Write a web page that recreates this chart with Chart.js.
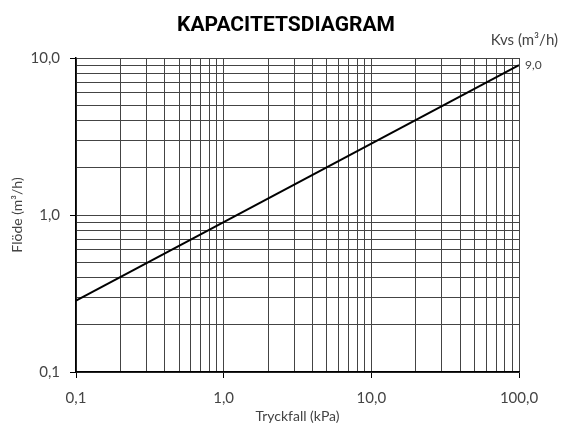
<!DOCTYPE html>
<html>
<head>
<meta charset="utf-8">
<script src="https://cdn.jsdelivr.net/npm/chart.js@4.4.1/dist/chart.umd.min.js"></script>
<style>
  html, body { margin: 0; padding: 0; background: #fff; }
  #wrap { width: 563px; height: 425px; position: relative; }
</style>
</head>
<body>
<div id="wrap"><canvas id="chart"></canvas></div>
<script>
/**
 *  Data
 */
var tryckfall = [0.1, 100];          // kPa
var flode = [0.285, 9.0];            // m3/h for Kvs 9,0
var kvsLabel = "9,0";
var gridX = [0.1, 0.2, 0.3, 0.4, 0.5, 0.6, 0.7, 0.8, 0.9,
             1, 2, 3, 4, 5, 6, 7, 8, 9,
             10, 20, 30, 40, 50, 60, 70, 80, 90, 100];
var gridY = [0.1, 0.2, 0.3, 0.4, 0.5, 0.6, 0.7, 0.8, 0.9,
             1, 2, 3, 4, 5, 6, 7, 8, 9, 10];
var majorTicks = [0.1, 1, 10, 100];
var majorLabels = ["0,1", "1,0", "10,0", "100,0"];

var tickFont = { family: "Lato", size: 15 };
var textColor = "#444";

var isMajor = function (v) {
    for (var i = 0; i < majorTicks.length; i++) {
        if (Math.abs(v - majorTicks[i]) < 1e-9) return i;
    }
    return -1;
};

var labelFor = function (v) {
    var i = isMajor(v);
    return i >= 0 ? majorLabels[i] : "";
};

var setTicks = function (list) {
    return function (scale) {
        scale.ticks = list.map(function (v) { return { value: v, major: isMajor(v) >= 0 }; });
    };
};

// title, Kvs header and line label
var extras = {
    id: "extras",
    afterDraw: function (chart) {
        var c = chart.ctx;
        var x = chart.scales.x, y = chart.scales.y;
        c.save();
        c.fillStyle = "#000";
        c.font = "bold 21px Roboto";
        c.textAlign = "center";
        c.textBaseline = "middle";
        c.fillText("KAPACITETSDIAGRAM", 286, 26);

        c.fillStyle = textColor;
        c.font = "15px Lato";
        c.textAlign = "right";
        c.fillText("Kvs (m³/h)", 558, 40);

        c.font = "12px Lato";
        c.textAlign = "left";
        c.fillText(kvsLabel, x.getPixelForValue(tryckfall[1]) + 6, y.getPixelForValue(flode[1]));
        c.restore();
    }
};

new Chart(document.getElementById("chart"), {
    type: "line",
    data: {
        datasets: [{
            label: "Kvs 9,0",
            data: tryckfall.map(function (v, i) { return { x: v, y: flode[i] }; }),
            borderColor: "#000",
            borderWidth: 2,
            pointRadius: 0,
            tension: 0
        }]
    },
    options: {
        responsive: true,
        maintainAspectRatio: false,
        animation: false,
        events: [],
        layout: { padding: { top: 58, right: 44, left: 0, bottom: 0 } },
        plugins: {
            legend: { display: false },
            tooltip: { enabled: false },
            title: { display: false }
        },
        scales: {
            x: {
                type: "logarithmic",
                min: 0.1,
                max: 100,
                afterBuildTicks: setTicks(gridX),
                afterFit: function (scale) { scale.height = 53; },
                border: { color: "#000", width: 1.5 },
                grid: {
                    color: "#444",
                    lineWidth: 1,
                    tickLength: 6,
                    tickColor: function (ctx) {
                        return ctx.tick && isMajor(ctx.tick.value) >= 0 ? "#000" : "rgba(0,0,0,0)";
                    }
                },
                ticks: {
                    autoSkip: false,
                    maxRotation: 0,
                    padding: 11,
                    color: textColor,
                    font: tickFont,
                    callback: function (v) { return labelFor(v); }
                },
                title: {
                    display: true,
                    text: "Tryckfall (kPa)",
                    color: textColor,
                    font: { family: "Lato", size: 14 },
                    padding: { top: 0, bottom: 0 }
                }
            },
            y: {
                type: "logarithmic",
                min: 0.1,
                max: 10,
                afterBuildTicks: setTicks(gridY),
                afterFit: function (scale) { scale.width = 76; },
                border: { color: "#000", width: 1.5 },
                grid: {
                    color: "#444",
                    lineWidth: 1,
                    tickLength: 6,
                    tickColor: function (ctx) {
                        return ctx.tick && isMajor(ctx.tick.value) >= 0 ? "#000" : "rgba(0,0,0,0)";
                    }
                },
                ticks: {
                    autoSkip: false,
                    padding: 10,
                    color: textColor,
                    font: tickFont,
                    callback: function (v) { return labelFor(v); }
                },
                title: {
                    display: true,
                    text: "Flöde (m³/h)",
                    color: textColor,
                    font: { family: "Lato", size: 14 },
                    padding: { top: 9, bottom: 0 }
                }
            }
        }
    },
    plugins: [extras]
});
</script>
</body>
</html>
